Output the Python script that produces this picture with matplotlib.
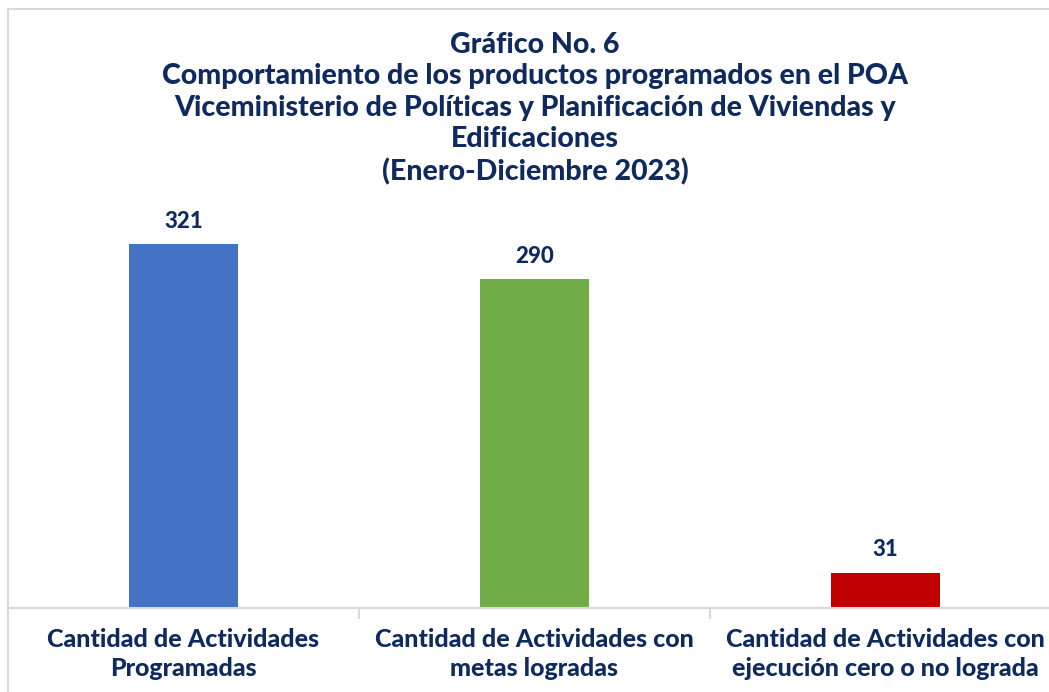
import matplotlib
matplotlib.use("Agg")
import matplotlib.pyplot as plt
from matplotlib.patches import Rectangle

categories = ["Cantidad de Actividades\nProgramadas",
              "Cantidad de Actividades con\nmetas logradas",
              "Cantidad de Actividades con\nejecución cero o no lograda"]
values = [321, 290, 31]
colors = ["#4472C4", "#70AD47", "#C00000"]
title = ("Gráfico No. 6\nComportamiento de los productos programados en el POA\n"
         "Viceministerio de Políticas y Planificación de Viviendas y\nEdificaciones\n"
         "(Enero-Diciembre 2023)")

navy = "#0E2A5E"
grid = "#D9D9D9"
plt.rcParams['font.family'] = ['Lato', 'DejaVu Sans']

W, H = 1049, 692
fig = plt.figure(figsize=(W/100, H/100), dpi=100)
fig.patch.set_facecolor("white")
# outer chart border
fig.add_artist(Rectangle((8/W, -0.1), 1.2, 1 - 9/H + 0.1, transform=fig.transFigure,
                         fill=False, edgecolor=grid, linewidth=1.5))

ax = fig.add_axes([8/W, 84/H, (1061-8)/W, (608-200)/H])
x = list(range(len(values)))
bars = ax.bar(x, values, width=0.313, color=colors, zorder=2)
ax.set_xlim(-0.5, 2.5)
ax.set_ylim(0, 360)
for xi, v in zip(x, values):
    ax.annotate(str(v), (xi, v), xytext=(0, 9), textcoords="offset points",
                ha="center", va="bottom", fontsize=16, fontweight="black", color=navy)
for s in ["top", "right", "left"]:
    ax.spines[s].set_visible(False)
ax.spines["bottom"].set_color(grid)
ax.spines["bottom"].set_linewidth(1.5)
ax.set_yticks([])
ax.set_xticks([0.5, 1.5], minor=False)
ax.set_xticklabels([])
ax.tick_params(axis="x", length=8, color=grid, width=1.5)
for xi, c in zip(x, categories):
    ax.text(xi, -0.05, c, transform=ax.get_xaxis_transform(), ha="center", va="top",
            fontsize=18, fontweight="black", color=navy, linespacing=1.3)

fig.text(535/W, 1 - 32/H, title, ha="center", va="top", fontsize=20.5,
         fontweight="black", color=navy, linespacing=1.26)

fig.savefig("out.png", dpi=100, facecolor="white")
